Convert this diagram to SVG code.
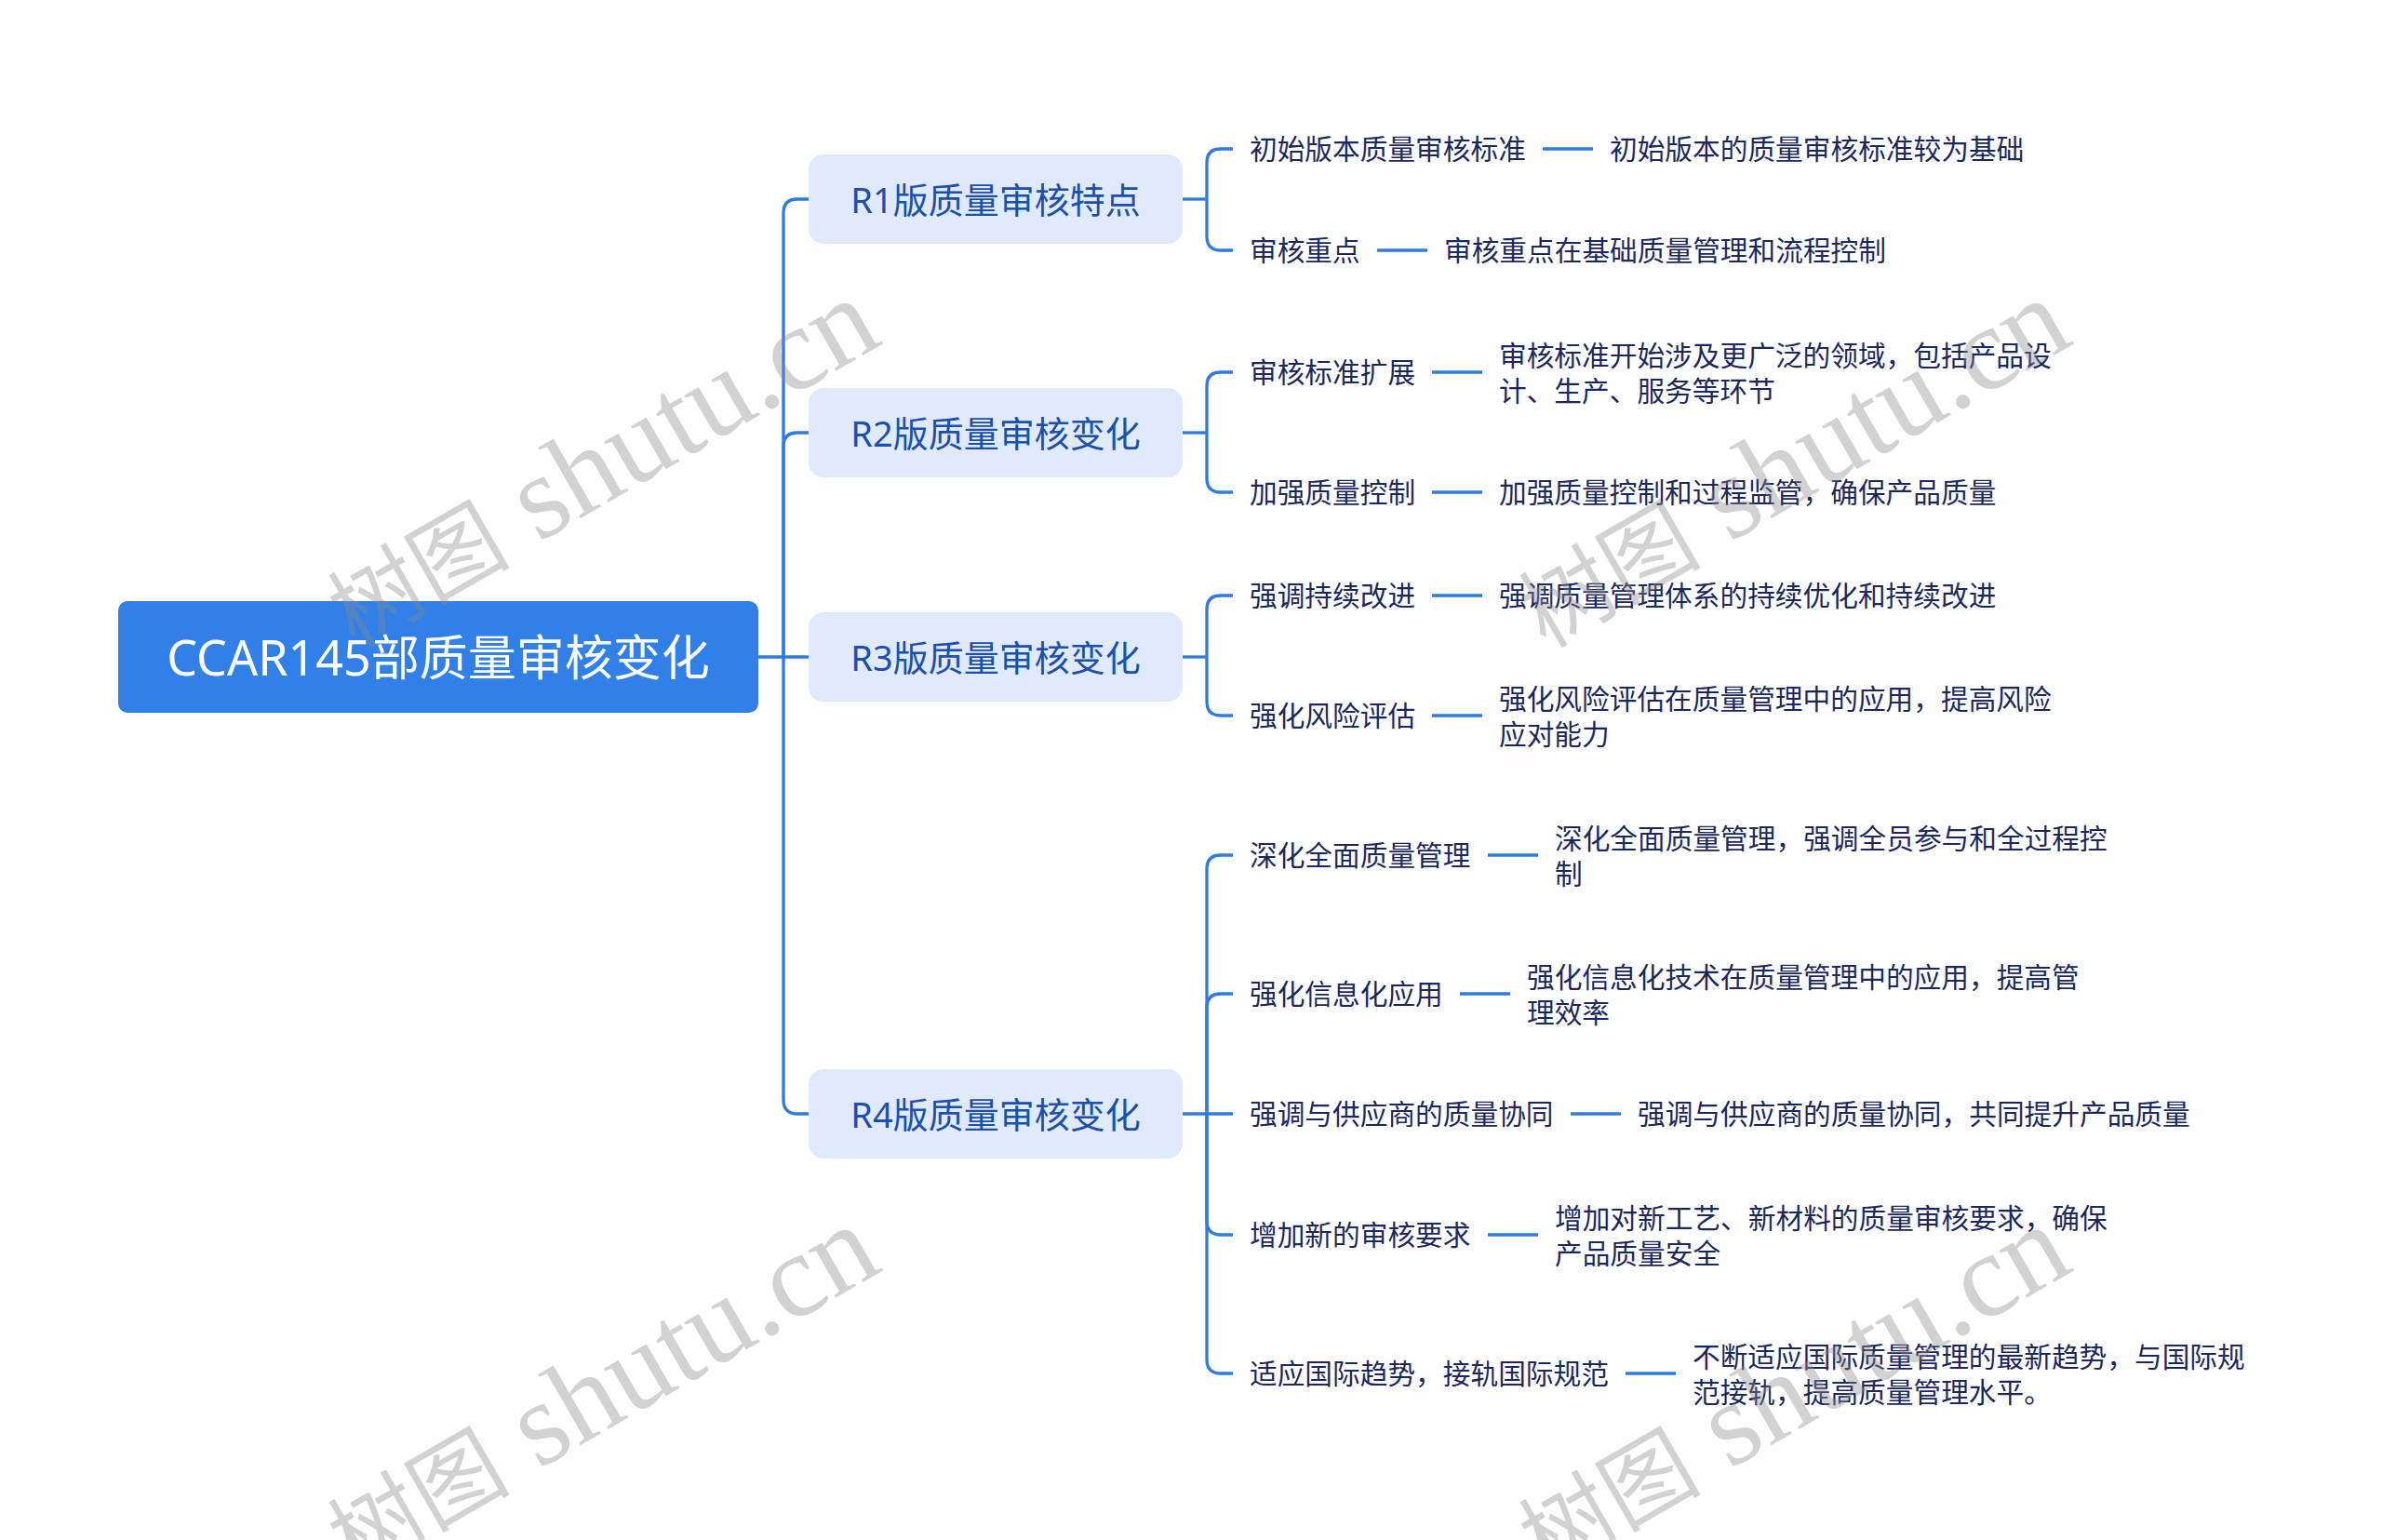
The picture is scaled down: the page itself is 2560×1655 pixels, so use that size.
<svg xmlns="http://www.w3.org/2000/svg" width="2560" height="1655" viewBox="0 0 2560 1655">
<style>
.bg{fill:#ffffff}
.root-box{fill:#3080e8}
.root-text{fill:#ffffff;font-family:"Noto Sans","Noto Sans CJK SC",sans-serif;font-size:52px}
.l1-box{fill:#e1eafc}
.l1-text{fill:#1b50ae;font-family:"Noto Sans","Noto Sans CJK SC",sans-serif;font-size:38px}
.l2-text{fill:#1b285e;font-family:"Noto Sans","Noto Sans CJK SC",sans-serif;font-size:29.7px}
.conn{fill:none;stroke:#2f7be0;stroke-width:3.3;stroke-linecap:butt}
.wm{fill:#8a8a8a;opacity:0.38;font-family:"Liberation Serif","Noto Sans CJK SC",serif;font-size:128px}
.wm-cjk{font-size:98px}
</style>
<rect class="bg" x="0" y="0" width="2560" height="1655"/>

<g id="connectors">
  <path class="conn" d="M815,706 H869"/>
  <path class="conn" d="M842,706 V229 Q842,214 857,214 H869"/>
  <path class="conn" d="M842,706 V480 Q842,465 857,465 H869"/>
  <path class="conn" d="M842,706 V1182 Q842,1197 857,1197 H869"/>
  <path class="conn" d="M1271,214 H1297"/>
  <path class="conn" d="M1297,214 V175 Q1297,160 1312,160 H1325"/>
  <path class="conn" d="M1297,214 V254 Q1297,269 1312,269 H1325"/>
  <path class="conn" d="M1271,465 H1297"/>
  <path class="conn" d="M1297,465 V415 Q1297,400 1312,400 H1325"/>
  <path class="conn" d="M1297,465 V514 Q1297,529 1312,529 H1325"/>
  <path class="conn" d="M1271,706 H1297"/>
  <path class="conn" d="M1297,706 V655 Q1297,640 1312,640 H1325"/>
  <path class="conn" d="M1297,706 V754 Q1297,769 1312,769 H1325"/>
  <path class="conn" d="M1271,1197 H1325"/>
  <path class="conn" d="M1297,1197 V934 Q1297,919 1312,919 H1325"/>
  <path class="conn" d="M1297,1197 V1083 Q1297,1068 1312,1068 H1325"/>
  <path class="conn" d="M1297,1197 V1312 Q1297,1327 1312,1327 H1325"/>
  <path class="conn" d="M1297,1197 V1461 Q1297,1476 1312,1476 H1325"/>
  <path class="conn" d="M1658,160 H1712"/>
  <path class="conn" d="M1480,269 H1534"/>
  <path class="conn" d="M1539,400 H1593"/>
  <path class="conn" d="M1539,529 H1593"/>
  <path class="conn" d="M1539,640 H1593"/>
  <path class="conn" d="M1539,769 H1593"/>
  <path class="conn" d="M1599,919 H1653"/>
  <path class="conn" d="M1569,1068 H1623"/>
  <path class="conn" d="M1688,1197 H1742"/>
  <path class="conn" d="M1599,1327 H1653"/>
  <path class="conn" d="M1747,1476 H1801"/>
</g>

<g id="root">
  <rect class="root-box" x="127" y="646" width="688" height="120" rx="10"/>
  <text class="root-text" x="471" y="726" text-anchor="middle">CCAR145部质量审核变化</text>
</g>

<g id="r1">
  <rect class="l1-box" x="869" y="166" width="402" height="96" rx="16"/>
  <text class="l1-text" x="1070" y="228.5" text-anchor="middle">R1版质量审核特点</text>
</g>
<g id="r2">
  <rect class="l1-box" x="869" y="417" width="402" height="96" rx="16"/>
  <text class="l1-text" x="1070" y="479.5" text-anchor="middle">R2版质量审核变化</text>
</g>
<g id="r3">
  <rect class="l1-box" x="869" y="658" width="402" height="96" rx="16"/>
  <text class="l1-text" x="1070" y="720.5" text-anchor="middle">R3版质量审核变化</text>
</g>
<g id="r4">
  <rect class="l1-box" x="869" y="1149" width="402" height="96" rx="16"/>
  <text class="l1-text" x="1070" y="1211.5" text-anchor="middle">R4版质量审核变化</text>
</g>

<g id="r1-c1"><text class="l2-text" x="1343" y="171">初始版本质量审核标准</text></g>
<g id="r1-c1-d"><text class="l2-text" x="1730" y="171">初始版本的质量审核标准较为基础</text></g>
<g id="r1-c2"><text class="l2-text" x="1343" y="280">审核重点</text></g>
<g id="r1-c2-d"><text class="l2-text" x="1552" y="280">审核重点在基础质量管理和流程控制</text></g>

<g id="r2-c1"><text class="l2-text" x="1343" y="411">审核标准扩展</text></g>
<g id="r2-c1-d"><text class="l2-text" x="1611" y="393">审核标准开始涉及更广泛的领域，包括产品设</text><text class="l2-text" x="1611" y="431">计、生产、服务等环节</text></g>
<g id="r2-c2"><text class="l2-text" x="1343" y="540">加强质量控制</text></g>
<g id="r2-c2-d"><text class="l2-text" x="1611" y="540">加强质量控制和过程监管，确保产品质量</text></g>

<g id="r3-c1"><text class="l2-text" x="1343" y="651">强调持续改进</text></g>
<g id="r3-c1-d"><text class="l2-text" x="1611" y="651">强调质量管理体系的持续优化和持续改进</text></g>
<g id="r3-c2"><text class="l2-text" x="1343" y="780">强化风险评估</text></g>
<g id="r3-c2-d"><text class="l2-text" x="1611" y="762">强化风险评估在质量管理中的应用，提高风险</text><text class="l2-text" x="1611" y="800">应对能力</text></g>

<g id="r4-c1"><text class="l2-text" x="1343" y="930">深化全面质量管理</text></g>
<g id="r4-c1-d"><text class="l2-text" x="1671" y="912">深化全面质量管理，强调全员参与和全过程控</text><text class="l2-text" x="1671" y="950">制</text></g>
<g id="r4-c2"><text class="l2-text" x="1343" y="1079">强化信息化应用</text></g>
<g id="r4-c2-d"><text class="l2-text" x="1641" y="1061">强化信息化技术在质量管理中的应用，提高管</text><text class="l2-text" x="1641" y="1099">理效率</text></g>
<g id="r4-c3"><text class="l2-text" x="1343" y="1208">强调与供应商的质量协同</text></g>
<g id="r4-c3-d"><text class="l2-text" x="1760" y="1208">强调与供应商的质量协同，共同提升产品质量</text></g>
<g id="r4-c4"><text class="l2-text" x="1343" y="1338">增加新的审核要求</text></g>
<g id="r4-c4-d"><text class="l2-text" x="1671" y="1320">增加对新工艺、新材料的质量审核要求，确保</text><text class="l2-text" x="1671" y="1358">产品质量安全</text></g>
<g id="r4-c5"><text class="l2-text" x="1343" y="1487">适应国际趋势，接轨国际规范</text></g>
<g id="r4-c5-d"><text class="l2-text" x="1819" y="1469">不断适应国际质量管理的最新趋势，与国际规</text><text class="l2-text" x="1819" y="1507">范接轨，提高质量管理水平。</text></g>

<g id="watermarks">
  <text class="wm" text-anchor="middle" transform="translate(647,500) rotate(-30)" y="38"><tspan class="wm-cjk">树图</tspan> shutu.cn</text>
  <text class="wm" text-anchor="middle" transform="translate(1927,500) rotate(-30)" y="38"><tspan class="wm-cjk">树图</tspan> shutu.cn</text>
  <text class="wm" text-anchor="middle" transform="translate(647,1496) rotate(-30)" y="38"><tspan class="wm-cjk">树图</tspan> shutu.cn</text>
  <text class="wm" text-anchor="middle" transform="translate(1927,1496) rotate(-30)" y="38"><tspan class="wm-cjk">树图</tspan> shutu.cn</text>
</g>
</svg>
